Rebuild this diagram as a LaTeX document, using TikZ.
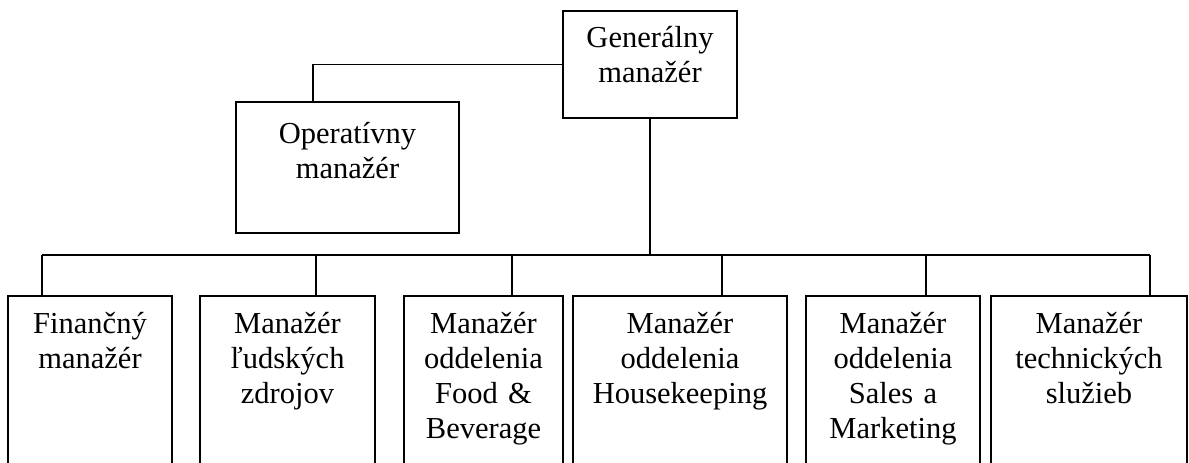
\documentclass[tikz,border=0pt]{standalone}
\usepackage{fontspec}
\setmainfont{Liberation Serif}
\usepackage{tikz}
\usetikzlibrary{positioning,calc}

\tikzset{
  orgbox/.style={draw,line width=1.8pt,anchor=north,inner xsep=0pt,inner ysep=0pt,
    align=center,font=\fontsize{30.5}{35}\selectfont},
  lowbox/.style={orgbox,text height=38pt,text depth=150pt},
  orgline/.style={line width=1.8pt}
}

\begin{document}
\begin{tikzpicture}[x=1pt,y=-1pt]
  \useasboundingbox (0,0) rectangle (1189,463);
  \clip (0,0) rectangle (1189,463);

  % top of the chart
  \node[orgbox,text width=174pt,text height=37pt,text depth=70pt] (gm) at (650,10) {Generálny\\manažér};
  \node[orgbox,text width=223pt,text height=42pt,text depth=89pt] (om) at (347.5,101) {Operatívny\\manažér};

  % department managers
  \node[lowbox,text width=164pt] (fin) at (90,295) {Finančný\\manažér};
  \node[lowbox,text width=175pt] (hr) at (287.5,295) {Manažér\\ľudských\\zdrojov};
  \node[lowbox,text width=159pt] (fb) at (483.5,295) {Manažér\\oddelenia\\Food \&\\Beverage};
  \node[lowbox,text width=214pt] (hk) at (680,295) {Manažér\\oddelenia\\Housekeeping};
  \node[lowbox,text width=174pt] (sm) at (893,295) {Manažér\\oddelenia\\Sales a\\Marketing};
  \node[lowbox,text width=196pt] (ts) at (1089,295) {Manažér\\technických\\služieb};

  % connectors
  \coordinate (op) at (313,0);
  \draw[orgline] (gm.west) -| (op |- om.north);

  \coordinate (d1) at (42,255);
  \coordinate (d2) at (316,255);
  \coordinate (d3) at (512,255);
  \coordinate (d4) at (722,255);
  \coordinate (d5) at (926,255);
  \coordinate (d6) at (1150,255);
  \draw[orgline] (gm.south) -- (gm.south |- d1);
  \draw[orgline] (d1) -- (d6);
  \draw[orgline] (d1) -- (d1 |- fin.north);
  \draw[orgline] (d2) -- (d2 |- hr.north);
  \draw[orgline] (d3) -- (d3 |- fb.north);
  \draw[orgline] (d4) -- (d4 |- hk.north);
  \draw[orgline] (d5) -- (d5 |- sm.north);
  \draw[orgline] (d6) -- (d6 |- ts.north);
\end{tikzpicture}
\end{document}
